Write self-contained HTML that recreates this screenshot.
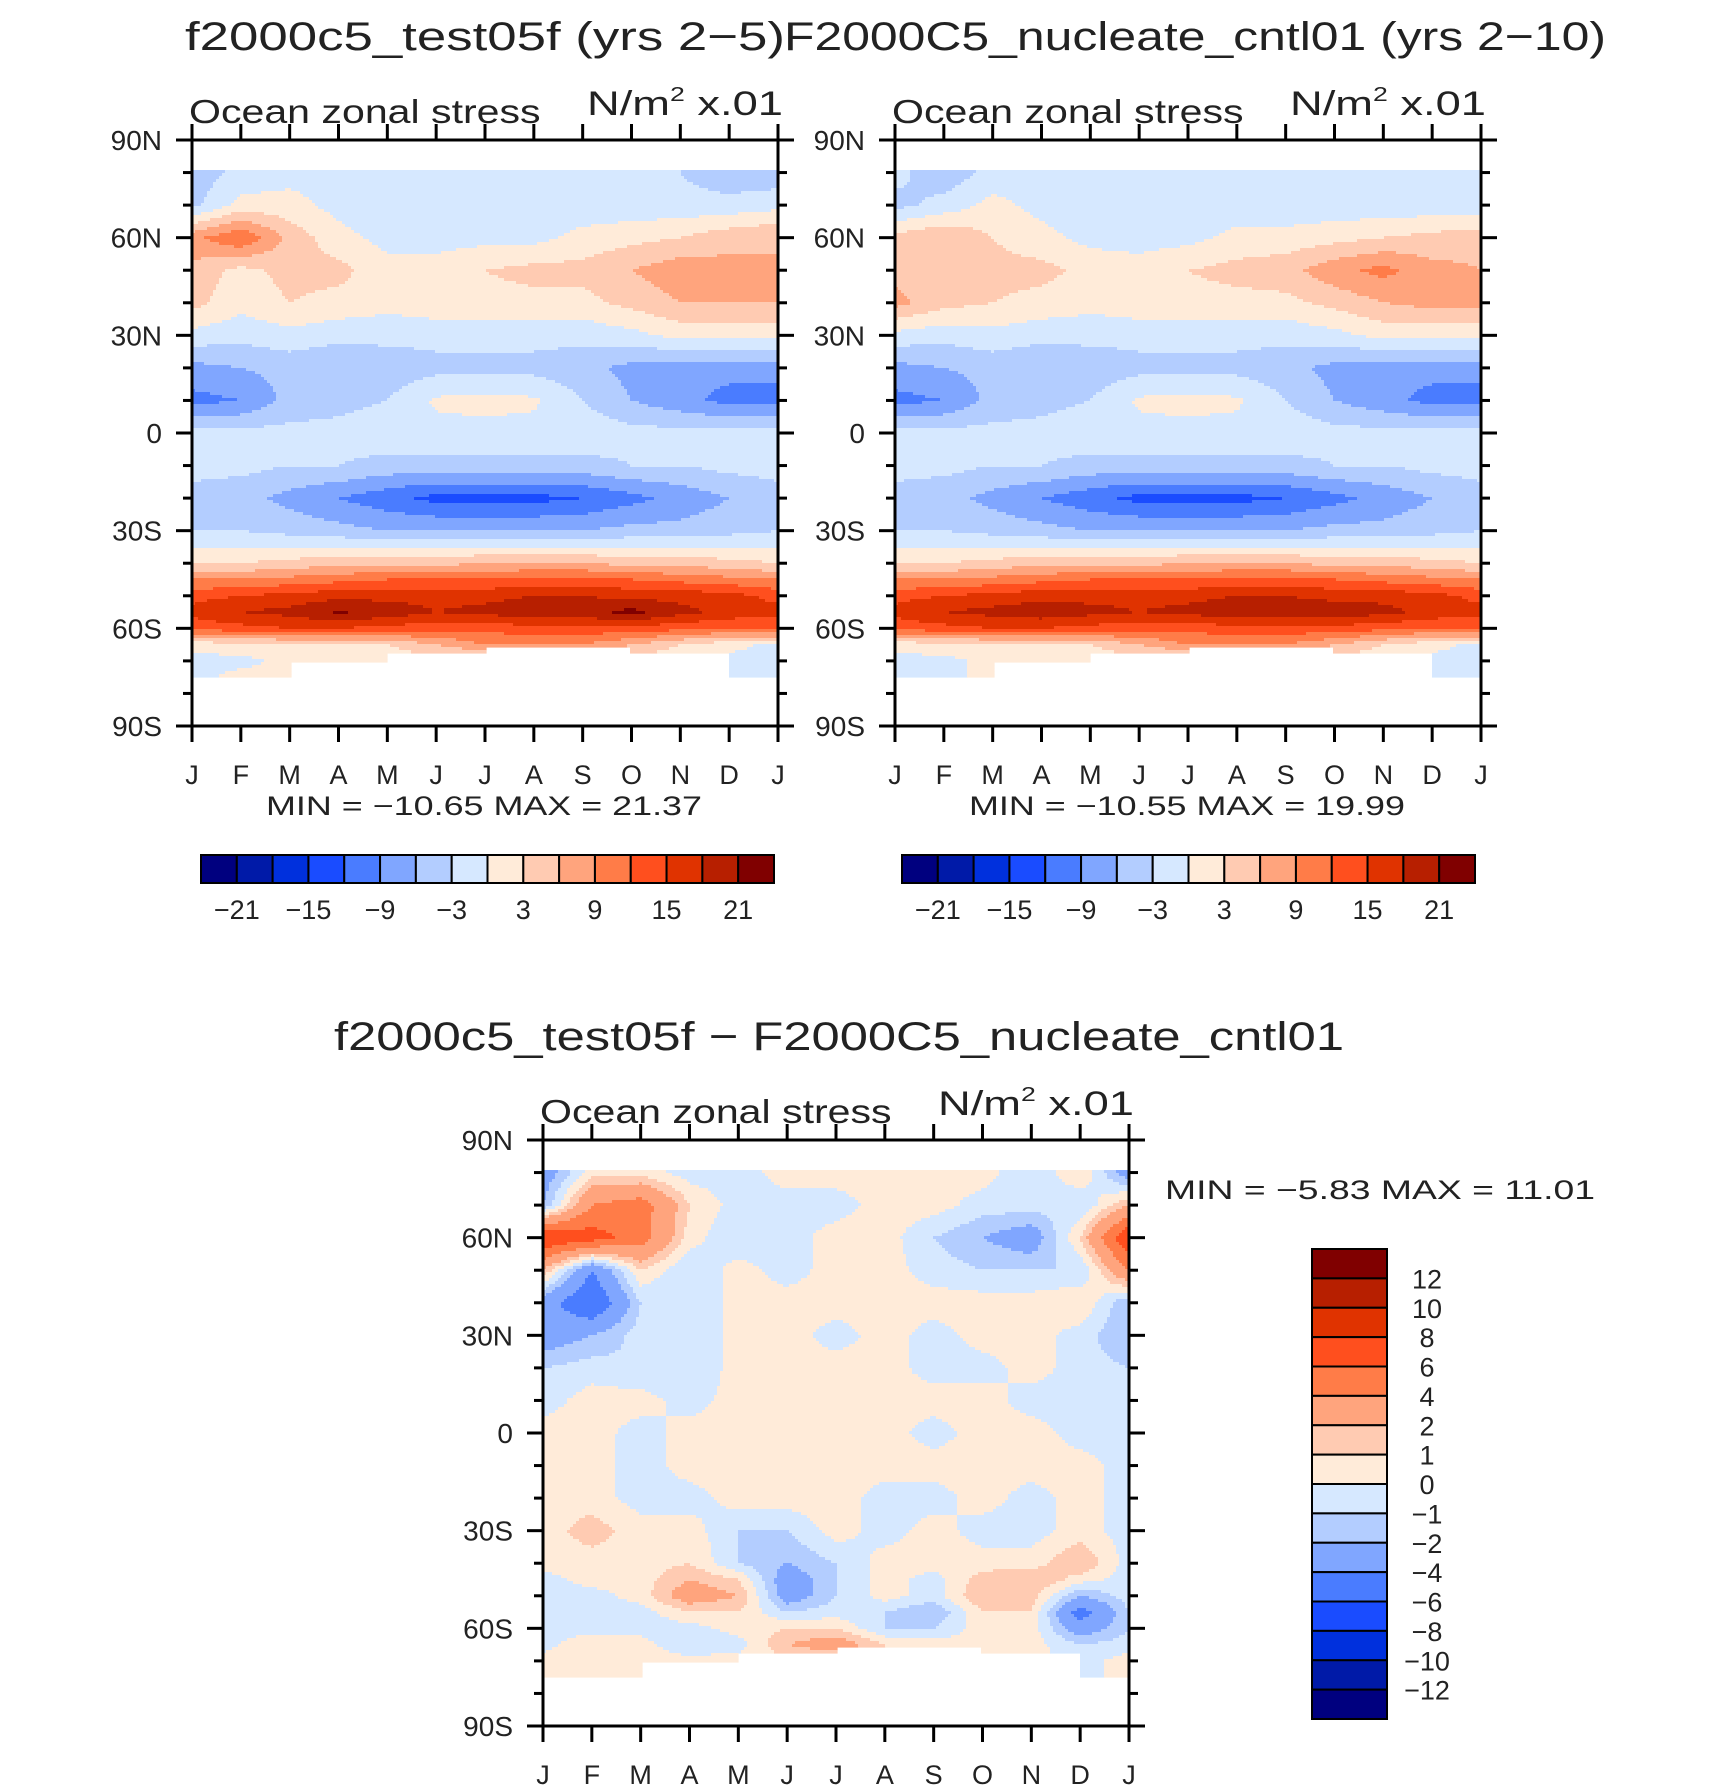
<!DOCTYPE html>
<html><head><meta charset="utf-8">
<style>
html,body{margin:0;padding:0;background:#fff;}
svg{display:block;font-family:"Liberation Sans","DejaVu Sans",sans-serif;}
</style></head>
<body>
<svg id="fig" width="1710" height="1791" viewBox="0 0 1710 1791" xmlns="http://www.w3.org/2000/svg">
<rect x="0" y="0" width="1710" height="1791" fill="#fff"/>
<g id="fields"></g>
<g id="axes"></g>
<g id="texts" fill="#222">
  <text x="185" y="50" font-size="40" textLength="600" lengthAdjust="spacingAndGlyphs">f2000c5_test05f (yrs 2−5)</text>
  <text x="784" y="50" font-size="40" textLength="822" lengthAdjust="spacingAndGlyphs">F2000C5_nucleate_cntl01 (yrs 2−10)</text>
  <text x="334" y="1050" font-size="40" textLength="1010" lengthAdjust="spacingAndGlyphs">f2000c5_test05f − F2000C5_nucleate_cntl01</text>
</g>
</svg>
<script>
// ---------- data ----------
const months = ['J','F','M','A','M','J','J','A','S','O','N','D','J'];
const latTicks = ['90N','60N','30N','0','30S','60S','90S'];
const lats = [80,70,60,50,40,30,20,10,0,-10,-20,-30,-40,-45,-50,-55,-60,-65,-70,-75];
const topLevels = [-21,-18,-15,-12,-9,-6,-3,0,3,6,9,12,15,18,21];
const topLevelLabels = ['−21','−15','−9','−3','3','9','15','21'];
const diffLevels = [-12,-10,-8,-6,-4,-2,-1,0,1,2,4,6,8,10,12];
const diffLevelLabels = ['12','10','8','6','4','2','1','0','−1','−2','−4','−6','−8','−10','−12'];
const palette = ['#00007f','#001aa8','#0030dd','#1a4cff','#4a7cff','#80a6ff','#b3cdff','#d6e8ff','#ffebd9','#ffcbb2','#ffa47d','#ff7c48','#ff4f1e','#e03300','#b71f00','#800000'];
const mask1 = [-77,-75,-70,-70,-68,-68,-66,-66,-66,-68,-68,-77];
const mask2 = [-77,-75,-70,-70,-68,-68,-66,-66,-66,-68,-68,-77];
const mask3 = [-77,-75,-70,-70,-68,-68,-66,-66,-66,-68,-68,-77];
const stats1 = 'MIN = −10.65 MAX =  21.37';
const stats2 = 'MIN = −10.55 MAX =  19.99';
const stats3 = 'MIN =  −5.83 MAX =  11.01';

const field1 = [
 [-5,-2,-1,-1,-1,-1,-1,-1,-2,-2,-3,-5,-5],
 [-4, 1, 1,-1,-2,-2,-2,-2,-2,-2,-2,-2,-1],
 [ 8,12, 5, 1,-1,-1,-1,-1, 1, 2, 3, 5, 6],
 [ 5, 2, 4, 4, 1, 1, 3, 4, 4, 6, 8, 7, 6],
 [ 4, 1, 3, 2, 1, 2, 2, 2, 2, 4, 6, 6, 6],
 [-1,-2,-1,-2,-2,-2,-2,-2,-2,-1, 1, 1, 1],
 [-7,-6,-5,-6,-5,-4,-4,-4,-5,-7,-8,-8,-8],
 [-10,-9,-5,-4,-3,0.5,1,0.5,-3,-6,-8,-10,-10],
 [-2,-2,-2,-2,-1,-1,-1,-1,-1,-2,-2,-2,-2],
 [-2,-2,-3,-3,-4,-4,-4,-4,-4,-3,-3,-2,-2],
 [-4,-5,-7,-9,-11,-13,-13,-13,-12,-10,-8,-6,-4],
 [-3,-3,-4,-5,-6,-6,-6,-6,-6,-5,-5,-4,-3],
 [ 3, 3, 4, 5, 5, 5, 6, 6, 6, 5, 5, 4, 3],
 [ 9, 9,10,11,12,12,12,13,13,12,11,10, 9],
 [14,15,16,17,17,17,17,18,18,17,17,16,14],
 [16,18,19,21.5,20,18,19,20,20,22,19,17,16],
 [13,14,15,15,14,13,13,14,14,14,13,12,13],
 [ 1, 2, 2, 3, 3, 6, 9, 9, 9, 6, 3, 1,-1],
 [-1,-1, 1, 1, 1, 1, 1, 1, 1, 1, 1,-1,-1],
 [-1, 1, 1, 1, 1, 1, 1, 1, 1, 1, 1,-1,-1]
];
const field2 = [
 [-2,-5,-2,-1,-1,-1,-1,-1,-1,-2,-2,-3,-3],
 [-4,-2, 1,-1,-2,-2,-2,-2,-2,-2,-2,-2,-2],
 [ 4, 6, 3, 1,-1,-1,-1, 1, 1, 2, 3, 4, 5],
 [ 5, 3, 4, 4, 2, 1, 3, 4, 5, 8,10, 7, 6],
 [ 7, 4, 3, 2, 1, 2, 2, 2, 2, 4, 6, 7, 7],
 [-1,-2,-1,-2,-2,-2,-2,-2,-2,-1, 1, 1, 1],
 [-7,-6,-5,-6,-5,-4,-4,-4,-5,-7,-8,-8,-8],
 [-10,-9,-5,-4,-3,0.5,1,0.5,-3,-6,-8,-10,-10],
 [-2,-2,-2,-2,-1,-1,-1,-1,-1,-2,-2,-2,-2],
 [-2,-2,-3,-3,-4,-4,-4,-4,-4,-3,-3,-2,-2],
 [-4,-5,-7,-9,-11,-13,-13,-13,-12,-10,-8,-6,-4],
 [-3,-3,-4,-5,-6,-6,-6,-6,-6,-5,-5,-4,-3],
 [ 3, 3, 4, 5, 5, 5, 6, 6, 6, 5, 5, 4, 3],
 [ 9, 9,10,11,12,12,12,13,13,12,11,10, 9],
 [14,15,16,17,17,17,17,18,18,17,17,16,14],
 [16,18,19,20,19,18,19,20,20,20,19,17,16],
 [13,14,15,15,14,13,13,14,14,14,13,12,13],
 [ 1, 2, 2, 3, 3, 6, 9, 9, 9, 6, 3, 1,-1],
 [-1,-1, 1, 1, 1, 1, 1, 1, 1, 1, 1,-1,-1],
 [-1,-1, 1, 1, 1, 1, 1, 1, 1, 1, 1,-1,-1]
];
const field3 = [
 [-3,0.5,0.5,-0.5,-0.5,0.5,0.5,0.5,0.5,0.5,-1,1,-3],
 [-2,4,5,1,-0.5,-0.5,-0.5,0.5,0.5,-0.5,-0.5,-1,2],
 [8,7,5,0.5,-1,-0.5,0.5,0.5,-1,-2,-3,1,8],
 [2,-4,1,-1,0.5,-0.5,0.5,0.5,-0.5,-1,-1,-1,4],
 [-3,-6,-1,-1,0.5,0.5,0.5,0.5,0.5,0.5,0.5,1,-2],
 [-3,-2,-0.5,-1,0.5,0.5,-0.5,0.5,-0.5,0.5,0.5,-0.5,-2],
 [-1,-0.5,-1,-1,0.5,0.5,0.5,0.5,-0.5,-0.5,0.5,-0.5,-1],
 [-0.5,0.5,0.5,-0.5,0.5,0.5,0.5,0.5,0.5,0.5,-0.5,-0.5,-0.5],
 [0.5,0.5,-0.5,0.5,0.5,0.5,0.5,0.5,-0.5,0.5,0.5,-0.5,-0.5],
 [0.5,0.5,-0.5,0.5,0.5,0.5,0.5,0.5,0.5,0.5,0.5,0.5,-0.5],
 [0.5,0.5,-0.5,-0.5,0.5,0.5,0.5,-0.5,-0.5,0.5,-0.5,0.5,-0.5],
 [0.5,1.5,0.5,0.5,-1,-1,0.5,-0.5,0.5,-0.5,-0.5,0.5,-0.5],
 [0.5,0.5,0.5,1,-1,-2,-1,0.5,0.5,0.5,0.5,2,-0.5],
 [-0.5,0.5,0.5,2,1,-3,-1,0.5,-0.5,1.5,2,0.5,-0.5],
 [-0.5,-0.5,0.5,3,2,-3,-1,0.5,-0.5,2,1.5,-2,-0.5],
 [-0.5,-0.5,-0.5,1,1,-1,-0.5,-1,-2,1,1,-5,-1],
 [-0.5,-0.5,-0.5,-0.5,0.5,1,1,-1,-1,0.5,0.5,-3,-1],
 [-0.5,1,0.5,-1,-0.5,2,3,1,0.5,0.5,0.5,-1,-0.5],
 [0.5,1,0.5,0.5,0.5,0.5,0.5,0.5,0.5,0.5,0.5,-0.5,0.5],
 [0.5,0.5,0.5,0.5,0.5,0.5,0.5,0.5,0.5,0.5,0.5,-0.5,0.5]
];

// ---------- rendering ----------
const NS='http://www.w3.org/2000/svg';
const fields=document.getElementById('fields');
const axes=document.getElementById('axes');
const texts=document.getElementById('texts');
function mk(tag,attrs,parent){const e=document.createElementNS(NS,tag);for(const k in attrs)e.setAttribute(k,attrs[k]);parent.appendChild(e);return e;}

function sample(field,lat,m){
  if(lat>lats[0]+0.5||lat<lats[lats.length-1])return null;
  let i=0;while(i<lats.length-2&&lat<lats[i+1])i++;
  const t=Math.max(0,Math.min(1,(lats[i]-lat)/(lats[i]-lats[i+1])));
  const j=Math.min(11,Math.floor(m));const u=m-j;
  const a=field[i][j],b=field[i][j+1],c=field[i+1][j],d=field[i+1][j+1];
  return (a*(1-u)+b*u)*(1-t)+(c*(1-u)+d*u)*t;
}
function colorIdx(v,levels){let k=0;while(k<levels.length&&v>=levels[k])k++;return k;}

function drawPlot(cfg){
  const {x0,y0,w,h,field,levels,mask,name}=cfg;
  const g=mk('g',{},fields);
  
  
  const step=3;
  for(let py=0;py<h;py+=step){
    const lat=90-(py+step/2)/h*180;
    let runStart=0,runCol=null;
    const flush=(end)=>{ if(runCol!==null){const r=mk('rect',{x:x0+runStart,y:y0+py,width:end-runStart+0.6,height:step+0.6,fill:runCol},g);
        
        } };
    for(let px=0;px<w;px+=step){
      const m=(px+step/2)/w*12;
      let v=sample(field,lat,m);
      const mi=Math.min(11,Math.floor(m));
      if(v!==null&&lat<mask[mi])v=null;
      const col=v===null?null:palette[colorIdx(v,levels)];
      if(col!==runCol){flush(px);runStart=px;runCol=col;}
    }
    flush(w);
  }
  const fa=mk('g',{stroke:'#000','stroke-width':3,fill:'none'},axes);
  
  
  mk('rect',{x:x0,y:y0,width:w,height:h},fa);
  for(let k=0;k<=12;k++){
    const x=x0+k*w/12;
    mk('line',{x1:x,y1:y0,x2:x,y2:y0-16},fa);
    mk('line',{x1:x,y1:y0+h,x2:x,y2:y0+h+16},fa);
    const t=mk('text',{x:x,y:y0+h+58,'font-size':27,'text-anchor':'middle',fill:'#222',stroke:'none'},texts);
    t.textContent=months[k];
    
    
  }
  for(let k=0;k<=18;k++){
    const y=y0+k*h/18;const major=k%3===0;const L=major?16:9;
    mk('line',{x1:x0,y1:y,x2:x0-L,y2:y},fa);
    mk('line',{x1:x0+w,y1:y,x2:x0+w+L,y2:y},fa);
    if(major){
      const t=mk('text',{x:x0-30,y:y+10,'font-size':28,'text-anchor':'end',fill:'#222',stroke:'none'},texts);
      t.textContent=latTicks[k/3];
      
      
    }
  }
  const s=mk('text',{x:x0-3,y:y0-17,'font-size':33,fill:'#222',textLength:w*0.6,lengthAdjust:'spacingAndGlyphs'},texts);
  s.textContent='Ocean zonal stress';
  
  
  const u=mk('text',{x:x0+w-191,y:y0-25,'font-size':34,fill:'#222',textLength:196,lengthAdjust:'spacingAndGlyphs'},texts);
  u.innerHTML='N/m<tspan font-size="20" dy="-14">2</tspan><tspan dy="14"> x.01</tspan>';
  
  
}

function hBar(x0,y0,w,h,name,statsText,statsX){
  const g=mk('g',{},axes);
  
  
  const bw=w/16;
  for(let k=0;k<16;k++){
    const r=mk('rect',{x:x0+k*bw,y:y0,width:bw,height:h,fill:palette[k],stroke:'#000','stroke-width':2},g);
    
    
  }
  for(let k=0;k<topLevelLabels.length;k++){
    const x=x0+(1+2*k)*bw;
    const t=mk('text',{x:x,y:y0+h+36,'font-size':27,'text-anchor':'middle',fill:'#222'},texts);
    t.textContent=topLevelLabels[k];
    
    
  }
  const s=mk('text',{x:statsX,y:815,'font-size':27,fill:'#222','xml:space':'preserve',textLength:436,lengthAdjust:'spacingAndGlyphs'},texts);
  s.textContent=statsText;
  
  
}

function vBar(x0,y0,w,h){
  const g=mk('g',{},axes);
  
  
  const bh=h/16;
  for(let k=0;k<16;k++){
    const r=mk('rect',{x:x0,y:y0+k*bh,width:w,height:bh,fill:palette[15-k],stroke:'#000','stroke-width':2},g);
    
    
  }
  for(let k=0;k<diffLevelLabels.length;k++){
    const t=mk('text',{x:x0+w+40,y:y0+(k+1)*bh+10,'font-size':27,'text-anchor':'middle',fill:'#222'},texts);
    t.textContent=diffLevelLabels[k];
    
    
  }
}

drawPlot({x0:192,y0:140,w:586,h:586,field:field1,levels:topLevels,mask:mask1,name:'test-plot'});
drawPlot({x0:895,y0:140,w:586,h:586,field:field2,levels:topLevels,mask:mask2,name:'cntl-plot'});
drawPlot({x0:543,y0:1140,w:586,h:586,field:field3,levels:diffLevels,mask:mask3,name:'diff-plot'});
hBar(201,855,573,28,'test-colorbar',stats1,266);
hBar(902,855,573,28,'cntl-colorbar',stats2,969);
vBar(1312,1249,75,470);
const st=mk('text',{x:1165,y:1199,'font-size':27,fill:'#222','xml:space':'preserve',textLength:430,lengthAdjust:'spacingAndGlyphs'},texts);
st.textContent=stats3;


</script>
</body></html>
